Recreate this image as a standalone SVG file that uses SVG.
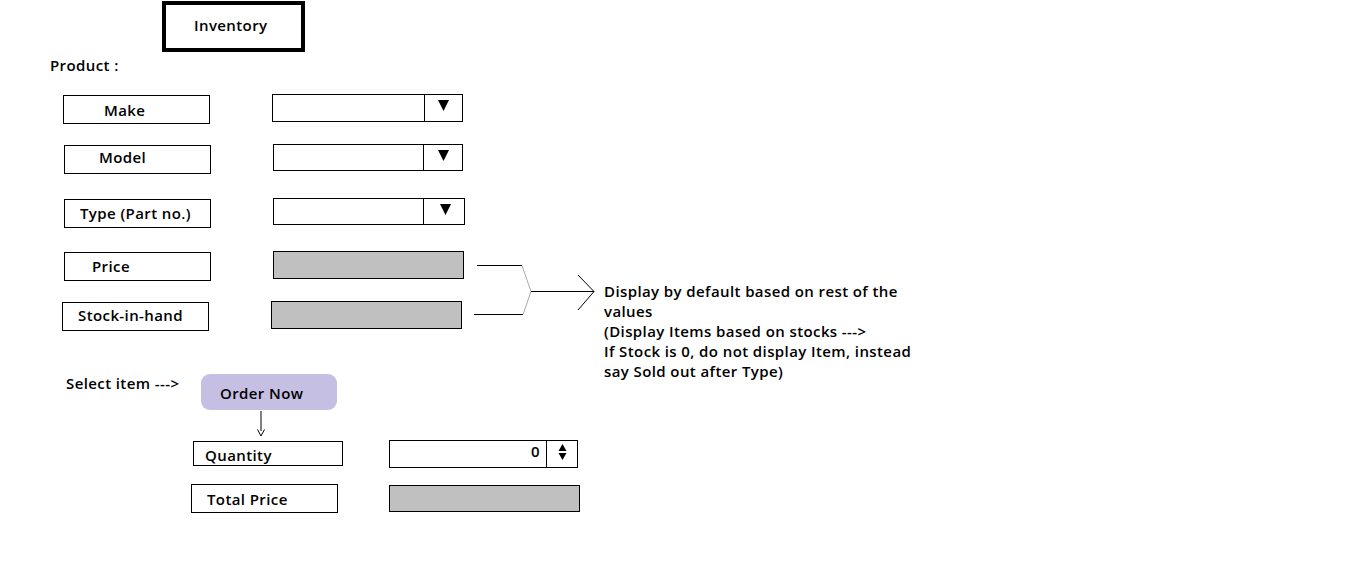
<svg xmlns="http://www.w3.org/2000/svg" width="1358" height="573" viewBox="0 0 1358 573">
<style>
text{font-family:"Open Sans","Noto Sans","Liberation Sans",sans-serif;font-size:15px;letter-spacing:0.4px;font-weight:600;fill:#000}
.lbl{fill:#fff;stroke:#000;stroke-width:1}
.fld{fill:#fff;stroke:#000;stroke-width:1}
.ro{fill:#c0c0c0;stroke:#000;stroke-width:1}
.ln{stroke:#000;stroke-width:1;fill:none}
.gl{stroke:#aaa;stroke-width:1;fill:none}
</style>
<rect width="1358" height="573" fill="#fff"/>
<g id="title"><rect x="164" y="3" width="139" height="47" fill="#fff" stroke="#000" stroke-width="4"/><text x="194" y="31">Inventory</text></g>
<text x="50" y="71">Product :</text>
<g id="make"><rect class="lbl" x="63.5" y="95.5" width="146" height="28"/><text x="104" y="116">Make</text></g>
<g id="make-dd"><rect class="fld" x="272.5" y="94.5" width="190" height="27"/><line class="ln" x1="424.5" y1="94.5" x2="424.5" y2="121.5"/><path d="M438 100h11l-5.5 11z"/></g>
<g id="model"><rect class="lbl" x="64.5" y="145.5" width="146" height="28"/><text x="99" y="163">Model</text></g>
<g id="model-dd"><rect class="fld" x="273.5" y="144.5" width="189" height="26"/><line class="ln" x1="423.5" y1="144.5" x2="423.5" y2="170.5"/><path d="M438 150h11l-5.5 11z"/></g>
<g id="type"><rect class="lbl" x="64.5" y="199.5" width="146" height="28"/><text x="80" y="219">Type (Part no.)</text></g>
<g id="type-dd"><rect class="fld" x="273.5" y="198.5" width="191" height="26"/><line class="ln" x1="423.5" y1="198.5" x2="423.5" y2="224.5"/><path d="M440 204h11l-5.5 11z"/></g>
<g id="price"><rect class="lbl" x="64.5" y="252.5" width="146" height="28"/><text x="92" y="272">Price</text></g>
<g id="price-fld"><rect class="ro" x="273.5" y="251.5" width="190" height="27"/></g>
<g id="stock"><rect class="lbl" x="62.5" y="302.5" width="146" height="28"/><text x="78" y="321">Stock-in-hand</text></g>
<g id="stock-fld"><rect class="ro" x="271.5" y="301.5" width="190" height="27"/></g>
<g id="connectors">
<path class="ln" d="M477 265.5H522"/>
<path class="gl" d="M522 265.5L531 291.5"/>
<path class="ln" d="M474 314.5H523"/>
<path class="gl" d="M523 314.5L531 291.5"/>
<path class="ln" d="M531 291.5H594"/>
<path class="ln" d="M578 275L594 291.5L578 310"/>
<path class="ln" stroke-width="2" d="M261 411V431"/>
<path class="ln" stroke-width="2" d="M257.5 429.5L261 436L264.5 429.5"/>
</g>
<g id="note"><text x="604" y="297">Display by default based on rest of the</text><text x="604" y="317">values</text><text x="604" y="337">(Display Items based on stocks ---&gt;</text><text x="604" y="357">If Stock is 0, do not display Item, instead</text><text x="604" y="377">say Sold out after Type)</text></g>
<text x="66" y="389">Select item ---&gt;</text>
<g id="order"><rect x="201" y="374" width="136" height="36" rx="9" fill="#c5bfe4"/><text x="220" y="399">Order Now</text></g>
<g id="qty"><rect class="lbl" x="193.5" y="441.5" width="149" height="24"/><text x="205" y="461">Quantity</text></g>
<g id="qty-fld"><rect class="fld" x="389.5" y="440.5" width="188" height="27"/><line class="ln" x1="546.5" y1="440.5" x2="546.5" y2="467.5"/><text x="540" y="457" text-anchor="end">0</text><path d="M562.5 444l-4 7h8z M562.5 460l-4 -7h8z"/></g>
<g id="total"><rect class="lbl" x="191.5" y="484.5" width="146" height="28"/><text x="207" y="505">Total Price</text></g>
<g id="total-fld"><rect class="ro" x="389.5" y="485.5" width="190" height="26"/></g>
</svg>
